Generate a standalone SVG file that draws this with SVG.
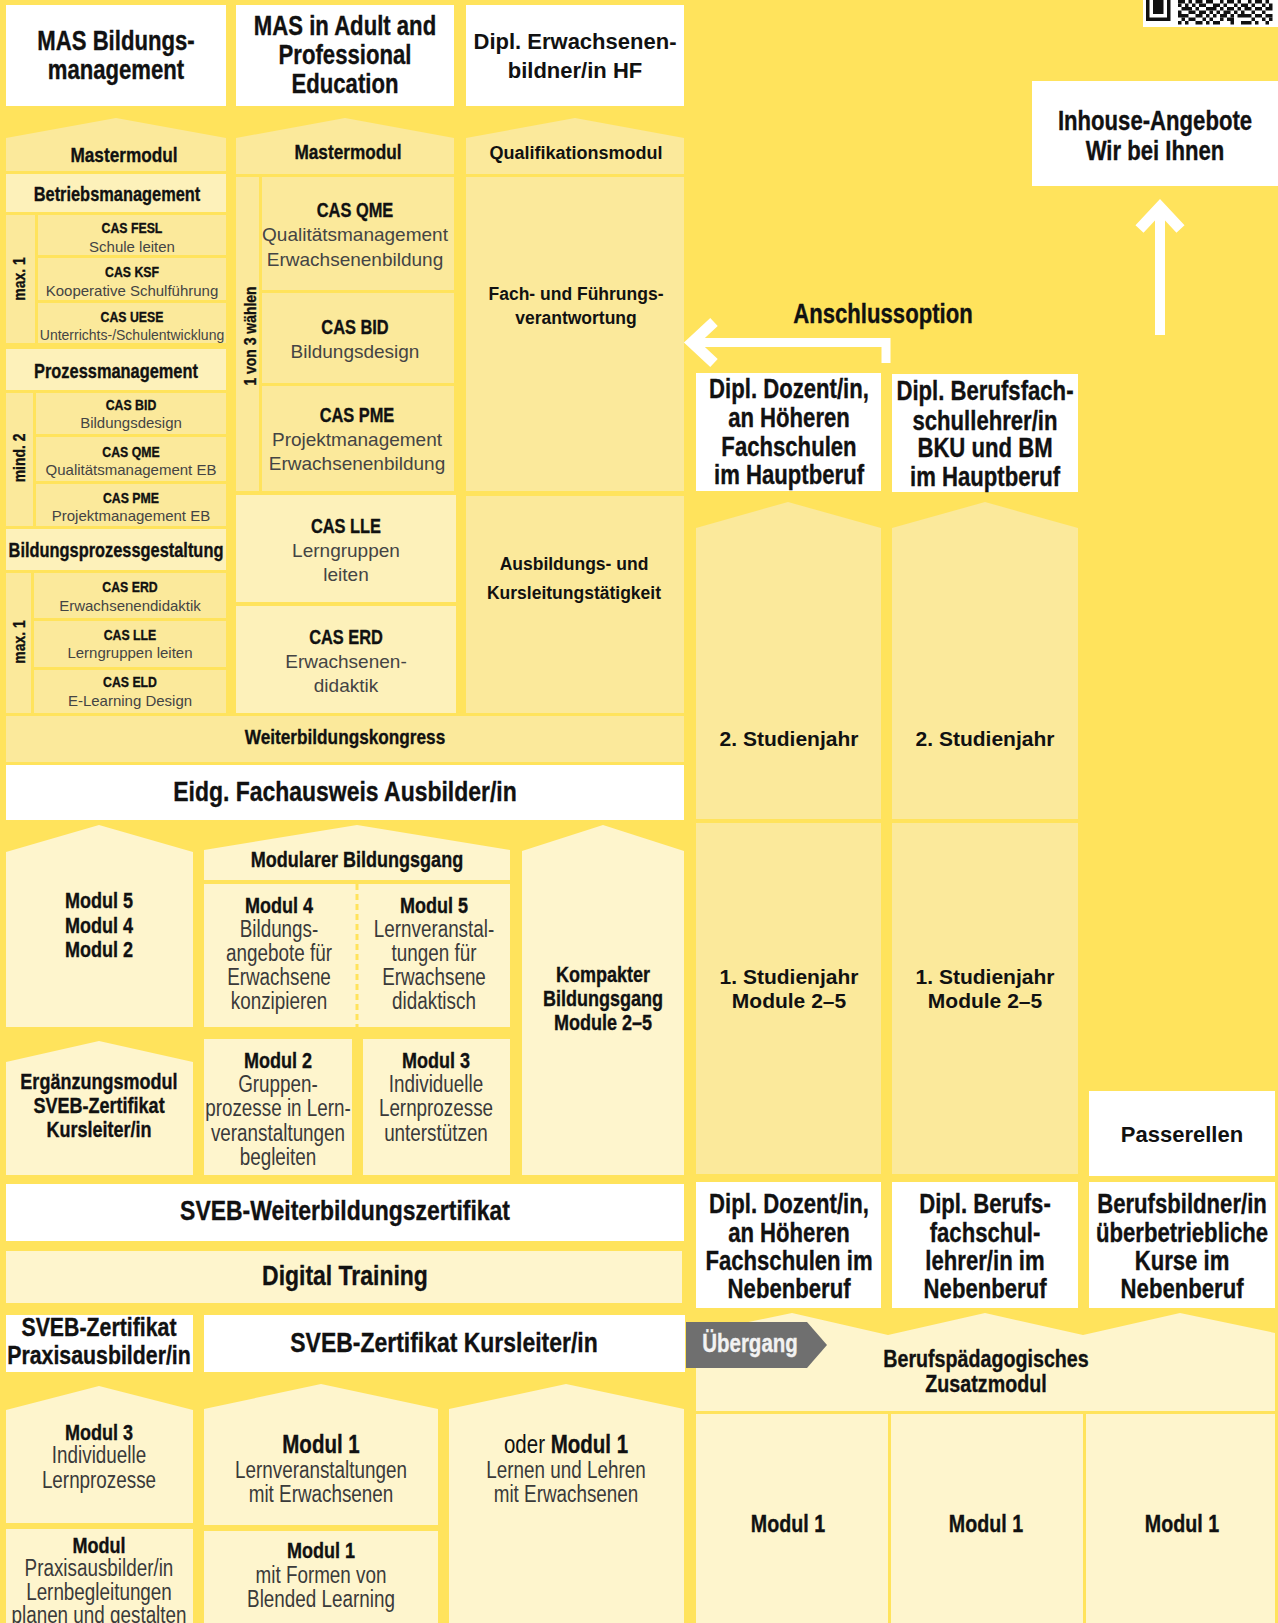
<svg xmlns="http://www.w3.org/2000/svg" width="1278" height="1623" viewBox="0 0 1278 1623">
<style>
.w{fill:#ffffff}
.m{fill:#FBE99B}
.l{fill:#FDF1BA}
.v{fill:#FEF5CD}
text{text-anchor:middle}
.tb{font-family:'Liberation Sans',Arial,sans-serif;font-weight:bold;fill:#111;stroke:#111;stroke-width:0.35px;transform:scaleX(.82);transform-box:fill-box;transform-origin:center}
.tn{font-family:'Liberation Sans',Arial,sans-serif;fill:#3a3a3a;transform:scaleX(.82);transform-box:fill-box;transform-origin:center}
.tr{font-family:'Liberation Sans',Arial,sans-serif;fill:#444}
.tw{font-family:'Liberation Sans',Arial,sans-serif;font-weight:bold;fill:#111}
.arr{fill:none;stroke:#ffffff}
</style>
<defs>
<marker id="chev" viewBox="0 0 46 46" refX="35" refY="23" markerWidth="46" markerHeight="46" markerUnits="userSpaceOnUse" orient="auto" overflow="visible">
<path d="M18 2.5 L40 23 L18 43.5" fill="none" stroke="#ffffff" stroke-width="11"/>
</marker>
</defs>
<rect x="0" y="0" width="1278" height="1623" fill="#FFE35C"/>

<!-- Top titles -->
<g id="mas-bildungsmanagement">
<rect class="w" x="6" y="5" width="220" height="101"/>
<text class="tb" font-size="27" x="116" y="50">MAS Bildungs-</text>
<text class="tb" font-size="27" x="116" y="79">management</text>
</g>
<g id="mas-adult-professional">
<rect class="w" x="236" y="5" width="218" height="101"/>
<text class="tb" font-size="27" x="345" y="35">MAS in Adult and</text>
<text class="tb" font-size="27" x="345" y="64">Professional</text>
<text class="tb" font-size="27" x="345" y="93">Education</text>
</g>
<g id="dipl-erwachsenenbildner">
<rect class="w" x="466" y="5" width="218" height="101"/>
<text class="tw" font-size="22" x="575" y="49">Dipl. Erwachsenen-</text>
<text class="tw" font-size="22" x="575" y="78">bildner/in HF</text>
</g>

<!-- Column 1 -->
<g id="c1-mastermodul">
<polygon class="m" points="6,138 116,118 226,138 226,171 6,171"/>
<text class="tb" font-size="21" x="124" y="162">Mastermodul</text>
</g>
<g id="c1-betriebsmanagement">
<rect class="l" x="6" y="174" width="220" height="38"/>
<text class="tb" font-size="20" x="117" y="201">Betriebsmanagement</text>
</g>
<g id="c1-max1-a">
<rect class="m" x="6" y="215" width="29" height="128"/>
<g transform="translate(25,279) rotate(-90)"><text class="tb" font-size="17">max. 1</text></g>
</g>
<g id="c1-cas-fesl">
<rect class="m" x="38" y="215" width="188" height="40"/>
<text class="tb" font-size="15" x="132" y="233">CAS FESL</text>
<text class="tr" font-size="15" x="132" y="252">Schule leiten</text>
</g>
<g id="c1-cas-ksf">
<rect class="m" x="38" y="258" width="188" height="42"/>
<text class="tb" font-size="15" x="132" y="277">CAS KSF</text>
<text class="tr" font-size="15" x="132" y="296">Kooperative Schulführung</text>
</g>
<g id="c1-cas-uese">
<rect class="m" x="38" y="303" width="188" height="40"/>
<text class="tb" font-size="15" x="132" y="322">CAS UESE</text>
<text class="tr" font-size="14" x="132" y="340">Unterrichts-/Schulentwicklung</text>
</g>
<g id="c1-prozessmanagement">
<rect class="l" x="6" y="349" width="220" height="41"/>
<text class="tb" font-size="20" x="116" y="378">Prozessmanagement</text>
</g>
<g id="c1-mind2">
<rect class="m" x="6" y="393" width="27" height="133"/>
<g transform="translate(25,458) rotate(-90)"><text class="tb" font-size="17">mind. 2</text></g>
</g>
<g id="c1-cas-bid">
<rect class="m" x="36" y="393" width="190" height="41"/>
<text class="tb" font-size="15" x="131" y="410">CAS BID</text>
<text class="tr" font-size="15" x="131" y="428">Bildungsdesign</text>
</g>
<g id="c1-cas-qme">
<rect class="m" x="36" y="437" width="190" height="44"/>
<text class="tb" font-size="15" x="131" y="457">CAS QME</text>
<text class="tr" font-size="15" x="131" y="475">Qualitätsmanagement EB</text>
</g>
<g id="c1-cas-pme">
<rect class="m" x="36" y="484" width="190" height="42"/>
<text class="tb" font-size="15" x="131" y="503">CAS PME</text>
<text class="tr" font-size="15" x="131" y="521">Projektmanagement EB</text>
</g>
<g id="c1-bildungsprozessgestaltung">
<rect class="l" x="6" y="529" width="220" height="41"/>
<text class="tb" font-size="20" x="116" y="557">Bildungsprozessgestaltung</text>
</g>
<g id="c1-max1-b">
<rect class="m" x="6" y="573" width="25" height="140"/>
<g transform="translate(25,642) rotate(-90)"><text class="tb" font-size="17">max. 1</text></g>
</g>
<g id="c1-cas-erd">
<rect class="m" x="34" y="573" width="192" height="45"/>
<text class="tb" font-size="15" x="130" y="592">CAS ERD</text>
<text class="tr" font-size="15" x="130" y="611">Erwachsenendidaktik</text>
</g>
<g id="c1-cas-lle">
<rect class="m" x="34" y="621" width="192" height="46"/>
<text class="tb" font-size="15" x="130" y="640">CAS LLE</text>
<text class="tr" font-size="15" x="130" y="658">Lerngruppen leiten</text>
</g>
<g id="c1-cas-eld">
<rect class="m" x="34" y="670" width="192" height="43"/>
<text class="tb" font-size="15" x="130" y="687">CAS ELD</text>
<text class="tr" font-size="15" x="130" y="706">E-Learning Design</text>
</g>

<!-- Column 2 -->
<g id="c2-mastermodul">
<polygon class="m" points="236,138 345,118 454,138 454,174 236,174"/>
<text class="tb" font-size="21" x="348" y="159">Mastermodul</text>
</g>
<g id="c2-1von3">
<rect class="m" x="236" y="177" width="23" height="314"/>
<g transform="translate(256,336) rotate(-90)"><text class="tb" font-size="17">1 von 3 wählen</text></g>
</g>
<g id="c2-cas-qme">
<rect class="m" x="262" y="177" width="192" height="113"/>
<text class="tb" font-size="20" x="355" y="217">CAS QME</text>
<text class="tr" font-size="19" x="355" y="241">Qualitätsmanagement</text>
<text class="tr" font-size="19" x="355" y="266">Erwachsenenbildung</text>
</g>
<g id="c2-cas-bid">
<rect class="m" x="262" y="293" width="192" height="90"/>
<text class="tb" font-size="20" x="355" y="334">CAS BID</text>
<text class="tr" font-size="19" x="355" y="358">Bildungsdesign</text>
</g>
<g id="c2-cas-pme">
<rect class="m" x="262" y="386" width="192" height="105"/>
<text class="tb" font-size="20" x="357" y="422">CAS PME</text>
<text class="tr" font-size="19" x="357" y="446">Projektmanagement</text>
<text class="tr" font-size="19" x="357" y="470">Erwachsenenbildung</text>
</g>
<g id="c2-cas-lle">
<rect class="l" x="236" y="495" width="220" height="107"/>
<text class="tb" font-size="20" x="346" y="533">CAS LLE</text>
<text class="tr" font-size="19" x="346" y="557">Lerngruppen</text>
<text class="tr" font-size="19" x="346" y="581">leiten</text>
</g>
<g id="c2-cas-erd">
<rect class="l" x="236" y="606" width="220" height="107"/>
<text class="tb" font-size="20" x="346" y="644">CAS ERD</text>
<text class="tr" font-size="19" x="346" y="668">Erwachsenen-</text>
<text class="tr" font-size="19" x="346" y="692">didaktik</text>
</g>

<!-- Column 3 -->
<g id="c3-qualifikationsmodul">
<polygon class="m" points="466,138 575,118 684,138 684,174 466,174"/>
<text class="tw" font-size="18" x="576" y="159">Qualifikationsmodul</text>
</g>
<g id="c3-fach-fuehrung">
<rect class="m" x="466" y="177" width="218" height="314"/>
<text class="tw" font-size="17.5" x="576" y="300">Fach- und Führungs-</text>
<text class="tw" font-size="17.5" x="576" y="324">verantwortung</text>
</g>
<g id="c3-ausbildung">
<rect class="m" x="466" y="496" width="218" height="217"/>
<text class="tw" font-size="17.5" x="574" y="570">Ausbildungs- und</text>
<text class="tw" font-size="17.5" x="574" y="599">Kursleitungstätigkeit</text>
</g>

<g id="weiterbildungskongress">
<rect class="m" x="6" y="716" width="678" height="46"/>
<text class="tb" font-size="21" x="345" y="744">Weiterbildungskongress</text>
</g>
<g id="eidg-fachausweis">
<rect class="w" x="6" y="765" width="678" height="55"/>
<text class="tb" font-size="28" x="345" y="801">Eidg. Fachausweis Ausbilder/in</text>
</g>

<!-- Lower section -->
<g id="modul-542">
<polygon class="v" points="6,852 99,825 193,852 193,1027 6,1027"/>
<text class="tb" font-size="22" x="99" y="908">Modul 5</text>
<text class="tb" font-size="22" x="99" y="933">Modul 4</text>
<text class="tb" font-size="22" x="99" y="957">Modul 2</text>
</g>
<g id="modularer-bildungsgang">
<polygon class="v" points="204,850 357,825 510,850 510,880 204,880"/>
<text class="tb" font-size="22" x="357" y="867">Modularer Bildungsgang</text>
</g>
<g id="modul-4-5">
<rect class="v" x="204" y="884" width="306" height="143"/>
<line x1="357" y1="884" x2="357" y2="1027" stroke="#FFE35C" stroke-width="3" stroke-dasharray="6 4"/>
<text class="tb" font-size="22" x="279" y="913">Modul 4</text>
<text class="tn" font-size="23" x="279" y="937">Bildungs-</text>
<text class="tn" font-size="23" x="279" y="961">angebote für</text>
<text class="tn" font-size="23" x="279" y="985">Erwachsene</text>
<text class="tn" font-size="23" x="279" y="1009">konzipieren</text>
<text class="tb" font-size="22" x="434" y="913">Modul 5</text>
<text class="tn" font-size="23" x="434" y="937">Lernveranstal-</text>
<text class="tn" font-size="23" x="434" y="961">tungen für</text>
<text class="tn" font-size="23" x="434" y="985">Erwachsene</text>
<text class="tn" font-size="23" x="434" y="1009">didaktisch</text>
</g>
<g id="kompakter-bildungsgang">
<polygon class="v" points="522,851 603,825 684,851 684,1175 522,1175"/>
<text class="tb" font-size="22" x="603" y="982">Kompakter</text>
<text class="tb" font-size="22" x="603" y="1006">Bildungsgang</text>
<text class="tb" font-size="22" x="603" y="1030">Module 2–5</text>
</g>
<g id="ergaenzungsmodul">
<polygon class="v" points="6,1062 99,1041 193,1062 193,1175 6,1175"/>
<text class="tb" font-size="22" x="99" y="1089">Ergänzungsmodul</text>
<text class="tb" font-size="22" x="99" y="1113">SVEB-Zertifikat</text>
<text class="tb" font-size="22" x="99" y="1137">Kursleiter/in</text>
</g>
<g id="modul-2">
<rect class="v" x="204" y="1039" width="148" height="136"/>
<text class="tb" font-size="22" x="278" y="1068">Modul 2</text>
<text class="tn" font-size="23" x="278" y="1092">Gruppen-</text>
<text class="tn" font-size="23" x="278" y="1116">prozesse in Lern-</text>
<text class="tn" font-size="23" x="278" y="1141">veranstaltungen</text>
<text class="tn" font-size="23" x="278" y="1165">begleiten</text>
</g>
<g id="modul-3">
<rect class="v" x="363" y="1039" width="147" height="136"/>
<text class="tb" font-size="22" x="436" y="1068">Modul 3</text>
<text class="tn" font-size="23" x="436" y="1092">Individuelle</text>
<text class="tn" font-size="23" x="436" y="1116">Lernprozesse</text>
<text class="tn" font-size="23" x="436" y="1141">unterstützen</text>
</g>
<g id="sveb-weiterbildungszertifikat">
<rect class="w" x="6" y="1184" width="678" height="57"/>
<text class="tb" font-size="28" x="345" y="1220">SVEB-Weiterbildungszertifikat</text>
</g>
<g id="digital-training">
<rect class="v" x="6" y="1251" width="676" height="52"/>
<text class="tb" font-size="28" x="345" y="1285">Digital Training</text>
</g>
<g id="sveb-praxisausbilder">
<rect class="w" x="6" y="1315" width="187" height="57"/>
<text class="tb" font-size="26" x="99" y="1336">SVEB-Zertifikat</text>
<text class="tb" font-size="26" x="99" y="1364">Praxisausbilder/in</text>
</g>
<g id="sveb-kursleiter">
<rect class="w" x="204" y="1315" width="481" height="57"/>
<text class="tb" font-size="28" x="444" y="1352">SVEB-Zertifikat Kursleiter/in</text>
</g>
<g id="b-modul-3">
<polygon class="v" points="6,1410 99,1386 193,1410 193,1523 6,1523"/>
<text class="tb" font-size="22" x="99" y="1440">Modul 3</text>
<text class="tn" font-size="23" x="99" y="1463">Individuelle</text>
<text class="tn" font-size="23" x="99" y="1488">Lernprozesse</text>
</g>
<g id="b-modul-praxis">
<rect class="v" x="6" y="1529" width="187" height="100"/>
<text class="tb" font-size="22" x="99" y="1553">Modul</text>
<text class="tn" font-size="23" x="99" y="1576">Praxisausbilder/in</text>
<text class="tn" font-size="23" x="99" y="1600">Lernbegleitungen</text>
<text class="tn" font-size="23" x="99" y="1623">planen und gestalten</text>
</g>
<g id="b-modul-1-lernveranstaltungen">
<polygon class="v" points="204,1409 321,1384 438,1409 438,1525 204,1525"/>
<text class="tb" font-size="25" x="321" y="1453">Modul 1</text>
<text class="tn" font-size="23" x="321" y="1478">Lernveranstaltungen</text>
<text class="tn" font-size="23" x="321" y="1502">mit Erwachsenen</text>
</g>
<g id="b-modul-1-blended">
<rect class="v" x="204" y="1531" width="234" height="100"/>
<text class="tb" font-size="22" x="321" y="1558">Modul 1</text>
<text class="tn" font-size="23" x="321" y="1583">mit Formen von</text>
<text class="tn" font-size="23" x="321" y="1607">Blended Learning</text>
</g>
<g id="b-oder-modul-1">
<polygon class="v" points="449,1409 566,1384 684,1409 684,1630 449,1630"/>
<text class="tn" font-size="25" x="566" y="1453"><tspan fill="#111">oder </tspan><tspan font-weight="bold" fill="#111" stroke="#111" stroke-width="0.35">Modul 1</tspan></text>
<text class="tn" font-size="23" x="566" y="1478">Lernen und Lehren</text>
<text class="tn" font-size="23" x="566" y="1502">mit Erwachsenen</text>
</g>

<!-- Right side -->
<g id="qr-code">
<rect class="w" x="1143" y="0" width="135" height="27"/>
<g fill="#111">
<rect x="1146" y="-3.5" width="24.5" height="24.5"/>
<rect x="1149.5" y="0" width="17.5" height="17.5" fill="#fff"/>
<rect x="1153" y="0" width="10.5" height="14"/>
<rect x="1178" y="0" width="7" height="3.5"/><rect x="1188.5" y="0" width="3.5" height="3.5"/><rect x="1195.5" y="0" width="7" height="3.5"/><rect x="1206" y="0" width="7" height="3.5"/><rect x="1220" y="0" width="3.5" height="3.5"/><rect x="1227" y="0" width="7" height="3.5"/><rect x="1237.5" y="0" width="3.5" height="3.5"/><rect x="1248" y="0" width="3.5" height="3.5"/><rect x="1255" y="0" width="7" height="3.5"/><rect x="1265.5" y="0" width="3.5" height="3.5"/>
<rect x="1178" y="3.5" width="3.5" height="3.5"/><rect x="1185" y="3.5" width="3.5" height="3.5"/><rect x="1192" y="3.5" width="3.5" height="3.5"/><rect x="1199" y="3.5" width="7" height="3.5"/><rect x="1213" y="3.5" width="7" height="3.5"/><rect x="1223.5" y="3.5" width="3.5" height="3.5"/><rect x="1234" y="3.5" width="3.5" height="3.5"/><rect x="1241" y="3.5" width="7" height="3.5"/><rect x="1251.5" y="3.5" width="3.5" height="3.5"/><rect x="1262" y="3.5" width="3.5" height="3.5"/><rect x="1269" y="3.5" width="3.5" height="3.5"/>
<rect x="1181.5" y="7" width="10.5" height="3.5"/><rect x="1195.5" y="7" width="3.5" height="3.5"/><rect x="1206" y="7" width="10.5" height="3.5"/><rect x="1220" y="7" width="3.5" height="3.5"/><rect x="1227" y="7" width="7" height="3.5"/><rect x="1237.5" y="7" width="3.5" height="3.5"/><rect x="1244.5" y="7" width="7" height="3.5"/><rect x="1255" y="7" width="7" height="3.5"/><rect x="1265.5" y="7" width="7" height="3.5"/>
<rect x="1178" y="10.5" width="3.5" height="3.5"/><rect x="1188.5" y="10.5" width="7" height="3.5"/><rect x="1199" y="10.5" width="7" height="3.5"/><rect x="1209.5" y="10.5" width="3.5" height="3.5"/><rect x="1216.5" y="10.5" width="3.5" height="3.5"/><rect x="1223.5" y="10.5" width="7" height="3.5"/><rect x="1234" y="10.5" width="3.5" height="3.5"/><rect x="1241" y="10.5" width="3.5" height="3.5"/><rect x="1251.5" y="10.5" width="3.5" height="3.5"/><rect x="1262" y="10.5" width="3.5" height="3.5"/>
<rect x="1178" y="14" width="10.5" height="3.5"/><rect x="1195.5" y="14" width="7" height="3.5"/><rect x="1206" y="14" width="3.5" height="3.5"/><rect x="1213" y="14" width="3.5" height="3.5"/><rect x="1220" y="14" width="7" height="3.5"/><rect x="1230.5" y="14" width="3.5" height="3.5"/><rect x="1237.5" y="14" width="14" height="3.5"/><rect x="1255" y="14" width="7" height="3.5"/><rect x="1265.5" y="14" width="7" height="3.5"/>
<rect x="1181.5" y="17.5" width="3.5" height="3.5"/><rect x="1188.5" y="17.5" width="7" height="3.5"/><rect x="1202.5" y="17.5" width="3.5" height="3.5"/><rect x="1209.5" y="17.5" width="3.5" height="3.5"/><rect x="1220" y="17.5" width="3.5" height="3.5"/><rect x="1227" y="17.5" width="7" height="3.5"/><rect x="1251.5" y="17.5" width="3.5" height="3.5"/><rect x="1262" y="17.5" width="3.5" height="3.5"/><rect x="1269" y="17.5" width="3.5" height="3.5"/>
<rect x="1178" y="21" width="3.5" height="3.5"/><rect x="1185" y="21" width="3.5" height="3.5"/><rect x="1195.5" y="21" width="7" height="3.5"/><rect x="1206" y="21" width="3.5" height="3.5"/><rect x="1213" y="21" width="7" height="3.5"/><rect x="1230.5" y="21" width="3.5" height="3.5"/><rect x="1241" y="21" width="10.5" height="3.5"/><rect x="1255" y="21" width="3.5" height="3.5"/><rect x="1265.5" y="21" width="3.5" height="3.5"/>
</g>
</g>
<g id="inhouse-angebote">
<rect class="w" x="1032" y="81" width="246" height="105"/>
<text class="tb" font-size="27" x="1155" y="130">Inhouse-Angebote</text>
<text class="tb" font-size="27" x="1155" y="160">Wir bei Ihnen</text>
</g>
<g id="anschlussoption-label">
<text class="tb" font-size="27" x="883" y="323">Anschlussoption</text>
</g>
<g id="dozent-hauptberuf">
<rect class="w" x="696" y="373" width="185" height="118"/>
<text class="tb" font-size="27" x="789" y="398">Dipl. Dozent/in,</text>
<text class="tb" font-size="27" x="789" y="427">an Höheren</text>
<text class="tb" font-size="27" x="789" y="456">Fachschulen</text>
<text class="tb" font-size="27" x="789" y="484">im Hauptberuf</text>
</g>
<g id="berufsfachschullehrer-hauptberuf">
<rect class="w" x="892" y="374" width="186" height="118"/>
<text class="tb" font-size="27" x="985" y="400">Dipl. Berufsfach-</text>
<text class="tb" font-size="27" x="985" y="430">schullehrer/in</text>
<text class="tb" font-size="27" x="985" y="457">BKU und BM</text>
<text class="tb" font-size="27" x="985" y="486">im Hauptberuf</text>
</g>
<g id="a-studienjahr-2">
<polygon class="m" points="696,528 788,502 881,528 881,819 696,819"/>
<text class="tw" font-size="21" x="789" y="746">2. Studienjahr</text>
</g>
<g id="a-studienjahr-1">
<rect class="m" x="696" y="823" width="185" height="351"/>
<text class="tw" font-size="21" x="789" y="984">1. Studienjahr</text>
<text class="tw" font-size="21" x="789" y="1008">Module 2–5</text>
</g>
<g id="b-studienjahr-2">
<polygon class="m" points="892,528 985,502 1078,528 1078,819 892,819"/>
<text class="tw" font-size="21" x="985" y="746">2. Studienjahr</text>
</g>
<g id="b-studienjahr-1">
<rect class="m" x="892" y="823" width="186" height="351"/>
<text class="tw" font-size="21" x="985" y="984">1. Studienjahr</text>
<text class="tw" font-size="21" x="985" y="1008">Module 2–5</text>
</g>
<g id="passerellen">
<rect class="w" x="1089" y="1091" width="186" height="85"/>
<text class="tw" font-size="22" x="1182" y="1142">Passerellen</text>
</g>
<g id="dozent-nebenberuf">
<rect class="w" x="696" y="1182" width="185" height="126"/>
<text class="tb" font-size="27" x="789" y="1213">Dipl. Dozent/in,</text>
<text class="tb" font-size="27" x="789" y="1242">an Höheren</text>
<text class="tb" font-size="27" x="789" y="1270">Fachschulen im</text>
<text class="tb" font-size="27" x="789" y="1298">Nebenberuf</text>
</g>
<g id="berufsfachschullehrer-nebenberuf">
<rect class="w" x="892" y="1182" width="186" height="126"/>
<text class="tb" font-size="27" x="985" y="1213">Dipl. Berufs-</text>
<text class="tb" font-size="27" x="985" y="1242">fachschul-</text>
<text class="tb" font-size="27" x="985" y="1270">lehrer/in im</text>
<text class="tb" font-size="27" x="985" y="1298">Nebenberuf</text>
</g>
<g id="berufsbildner-nebenberuf">
<rect class="w" x="1089" y="1182" width="186" height="126"/>
<text class="tb" font-size="27" x="1182" y="1213">Berufsbildner/in</text>
<text class="tb" font-size="27" x="1182" y="1242">überbetriebliche</text>
<text class="tb" font-size="27" x="1182" y="1270">Kurse im</text>
<text class="tb" font-size="27" x="1182" y="1298">Nebenberuf</text>
</g>
<g id="zusatzmodul">
<polygon class="v" points="696,1333 792,1313 888,1335 985,1313 1083,1335 1180,1313 1275,1333 1275,1411 696,1411"/>
<text class="tb" font-size="24" x="986" y="1367">Berufspädagogisches</text>
<text class="tb" font-size="24" x="986" y="1392">Zusatzmodul</text>
</g>
<g id="r-modul-1-a">
<rect class="v" x="696" y="1414" width="192" height="215"/>
<text class="tb" font-size="24" x="788" y="1532">Modul 1</text>
</g>
<g id="r-modul-1-b">
<rect class="v" x="891" y="1414" width="192" height="215"/>
<text class="tb" font-size="24" x="986" y="1532">Modul 1</text>
</g>
<g id="r-modul-1-c">
<rect class="v" x="1086" y="1414" width="189" height="215"/>
<text class="tb" font-size="24" x="1182" y="1532">Modul 1</text>
</g>
<g id="uebergang">
<polygon points="686,1322 807,1322 827,1345 807,1368 686,1368" fill="#6F6F6F"/>
<text class="tb" font-size="25" x="750" y="1352" style="fill:#F2F2F2;stroke:#F2F2F2">Übergang</text>
</g>

<g id="connectors">
<path class="arr" d="M886 363 V342.5 H697" stroke-width="9" marker-end="url(#chev)"/>
<path class="arr" d="M1160 335 V212" stroke-width="10" marker-end="url(#chev)"/>
</g>
</svg>
